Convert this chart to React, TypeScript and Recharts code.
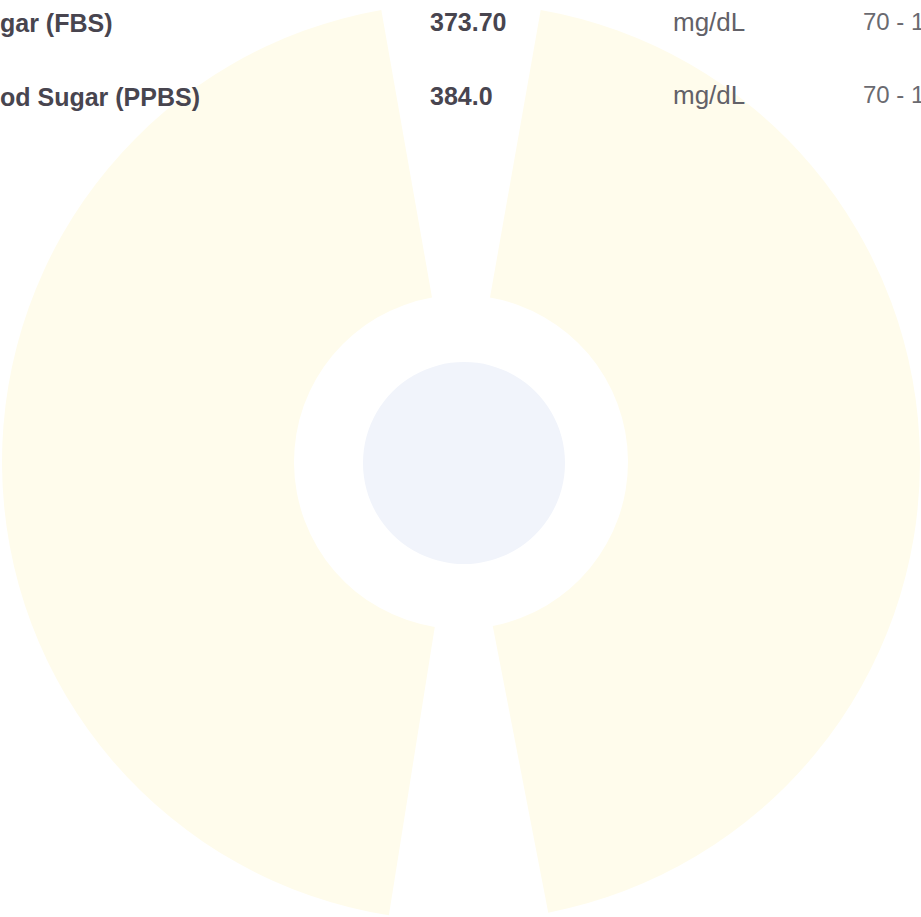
import { Pie, PieChart } from "recharts";

// watermark donut: two halves split by a gap at top and bottom
const ringNames = ["left", "right"];
const ringShares = [50.3, 49.7];
const coreShares = [100];

// report rows (cropped scan)
const testNames = ["gar (FBS)", "od Sugar (PPBS)"];
const results = ["373.70", "384.0"];
const units = ["mg/dL", "mg/dL"];
const ranges = ["70 - 1", "70 - 1"];

const W = 921;
const H = 917;

const ringData = ringNames.map((name, i) => ({ name, value: ringShares[i] }));
const coreData = coreShares.map((value) => ({ name: "core", value }));

const rowY = [32, 106];
const rowYRight = [30, 103];

export default function App() {
  return (
    <div
      style={{
        position: "fixed",
        left: 0,
        top: 0,
        width: W,
        height: H,
        background: "#fff",
        overflow: "hidden",
      }}
    >
      <PieChart width={W} height={H} margin={{ top: 0, right: 0, bottom: 0, left: 0 }}>
        <Pie
          data={ringData}
          dataKey="value"
          nameKey="name"
          cx={461}
          cy={462}
          innerRadius={167}
          outerRadius={459}
          startAngle={100}
          endAngle={460}
          paddingAngle={20}
          fill="#fffcec"
          stroke="none"
          isAnimationActive={false}
        />
        <Pie
          data={coreData}
          dataKey="value"
          nameKey="name"
          cx={464}
          cy={463}
          innerRadius={0}
          outerRadius={101}
          fill="#f1f4fb"
          stroke="none"
          isAnimationActive={false}
        />
      </PieChart>
      <svg
        width={W}
        height={H}
        style={{ position: "absolute", left: 0, top: 0, pointerEvents: "none" }}
        fontFamily="'Liberation Sans', Arial, sans-serif"
      >
        {testNames.map((t, i) => (
          <g key={t}>
            <text x={0} y={rowY[i]} fontSize={25} fontWeight="bold" fill="#48454f">
              {t}
            </text>
            <text x={430} y={rowY[i] - 1} fontSize={25} fontWeight="bold" fill="#48454f">
              {results[i]}
            </text>
            <text x={673} y={rowYRight[i] + 1} fontSize={26} fill="#626168">
              {units[i]}
            </text>
            <text x={863} y={rowYRight[i]} fontSize={24} fill="#6a6a70">
              {ranges[i]}
            </text>
          </g>
        ))}
      </svg>
    </div>
  );
}
